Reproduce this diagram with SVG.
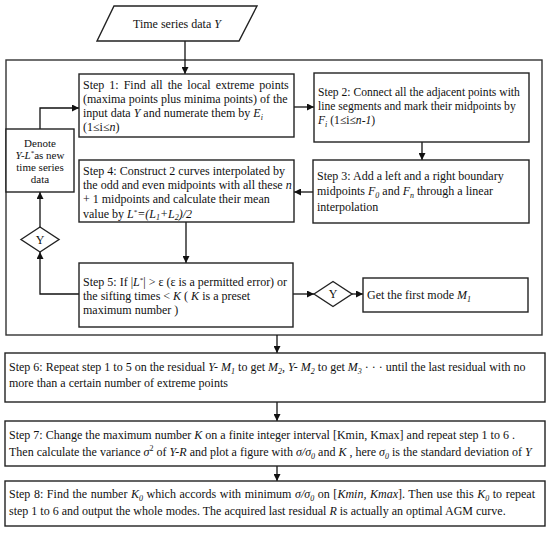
<svg xmlns="http://www.w3.org/2000/svg" width="550" height="534" viewBox="0 0 550 534">
<style>
text{font-family:"Liberation Serif","Times New Roman",serif;font-size:12px;fill:#111}
.i{font-style:italic}
.s2 text{font-size:11.6px}
.dn text{font-size:11px}
.box{fill:#fff;stroke:#222;stroke-width:1.4}
.frame{fill:none;stroke:#333;stroke-width:1.4}
.c{fill:none;stroke:#111;stroke-width:1.3}
</style>
<defs>
<marker id="a" viewBox="0 0 10 10" refX="10" refY="5" markerWidth="7" markerHeight="7" markerUnits="userSpaceOnUse" orient="auto">
<path d="M0,0 L10,5 L0,10 z" fill="#111"/>
</marker>
</defs>
<rect fill="#fff" width="550" height="534"/>
<g id="frame"><rect class="frame" x="6" y="60" width="536" height="275"/></g>
<g id="connectors">
<path class="c" d="M185,41 V74" marker-end="url(#a)"/>
<path class="c" d="M294,107 H314" marker-end="url(#a)"/>
<path class="c" d="M422,142 V160" marker-end="url(#a)"/>
<path class="c" d="M313,192 H294" marker-end="url(#a)"/>
<path class="c" d="M186,222 V263" marker-end="url(#a)"/>
<path class="c" d="M293,294 H314" marker-end="url(#a)"/>
<path class="c" d="M352,294 H363" marker-end="url(#a)"/>
<path class="c" d="M79,294 H40 V252" marker-end="url(#a)"/>
<path class="c" d="M40,227 V192" marker-end="url(#a)"/>
<path class="c" d="M40,129 V108 H79" marker-end="url(#a)"/>
<path class="c" d="M277,335 V353" marker-end="url(#a)"/>
<path class="c" d="M277,402 V421" marker-end="url(#a)"/>
<path class="c" d="M277,466 V481" marker-end="url(#a)"/>
</g>
<g id="input">
<polygon class="box" points="114,6 257,6 239,41 97,41"/>
<text x="177" y="28" text-anchor="middle">Time series data <tspan class="i">Y</tspan></text>
</g>
<g id="step1">
<rect class="box" x="79" y="74" width="215" height="63"/>
<text x="83" y="89" word-spacing="2">Step 1: Find all the local extreme points</text>
<text x="83" y="103">(maxima points plus minima points) of the</text>
<text x="83" y="117">input data <tspan class="i">Y</tspan> and numerate them by <tspan class="i">E</tspan><tspan class="i" font-size="8" dy="2.5">i</tspan></text>
<text x="83" y="131">(1≤i≤<tspan class="i">n</tspan>)</text>
</g>
<g id="step2" class="s2">
<rect class="box" x="314" y="73" width="215" height="69"/>
<text x="318" y="96">Step 2: Connect all the adjacent points with</text>
<text x="318" y="110">line segments and mark their midpoints by</text>
<text x="318" y="124"><tspan class="i">F</tspan><tspan class="i" font-size="8" dy="2.5">i</tspan><tspan dy="-2.5"> (1≤i≤</tspan><tspan class="i">n-1</tspan>)</text>
</g>
<g id="step3">
<rect class="box" x="313" y="160" width="216" height="63"/>
<text x="317" y="180">Step 3: Add a left and a right boundary</text>
<text x="317" y="195">midpoints <tspan class="i">F</tspan><tspan class="i" font-size="8" dy="2.5">0</tspan><tspan dy="-2.5">  and </tspan><tspan class="i">F</tspan><tspan class="i" font-size="8" dy="2.5">n</tspan><tspan dy="-2.5"> through a linear</tspan></text>
<text x="317" y="211">interpolation</text>
</g>
<g id="step4">
<rect class="box" x="79" y="160" width="215" height="62"/>
<text x="83" y="175">Step 4: Construct  2 curves interpolated by</text>
<text x="83" y="189">the odd and even midpoints with all these <tspan class="i">n</tspan></text>
<text x="83" y="203">+ 1 midpoints and calculate their mean</text>
<text x="83" y="218">value by <tspan class="i">L</tspan><tspan font-size="7" dy="-4">*</tspan><tspan class="i" dy="4">=(L</tspan><tspan class="i" font-size="8" dy="2">1</tspan><tspan class="i" dy="-2">+L</tspan><tspan class="i" font-size="8" dy="2">2</tspan><tspan class="i" dy="-2">)/2</tspan></text>
</g>
<g id="step5">
<rect class="box" x="79" y="263" width="214" height="64"/>
<text x="83" y="286">Step 5: If |<tspan class="i">L</tspan><tspan font-size="7" dy="-4">*</tspan><tspan dy="4">| &gt; ε (ε is a permitted error) or</tspan></text>
<text x="83" y="300">the sifting times &lt; <tspan class="i">K</tspan> ( <tspan class="i">K</tspan> is a preset</text>
<text x="83" y="314">maximum number )</text>
</g>
<g id="decision1">
<polygon class="box" points="314,294 333,281.5 352,294 333,306.5"/>
<text x="333" y="298" text-anchor="middle">Y</text>
</g>
<g id="mode1">
<rect class="box" x="363" y="278" width="165" height="34"/>
<text x="367" y="299">Get the first mode <tspan class="i">M</tspan><tspan class="i" font-size="8" dy="2.5">1</tspan></text>
</g>
<g id="decision2">
<polygon class="box" points="21,239.5 40,227 59,239.5 40,252"/>
<text x="40" y="243.5" text-anchor="middle">Y</text>
</g>
<g id="denote" class="dn">
<rect class="box" x="6" y="129" width="68" height="63"/>
<text x="40" y="147" text-anchor="middle">Denote</text>
<text x="40" y="159" text-anchor="middle"><tspan class="i">Y-L</tspan><tspan font-size="7" dy="-4">*</tspan><tspan dy="4">as new</tspan></text>
<text x="40" y="171" text-anchor="middle">time series</text>
<text x="40" y="183" text-anchor="middle">data</text>
</g>
<g id="step6">
<rect class="box" x="5" y="353" width="540" height="49"/>
<text x="9" y="371">Step 6: Repeat step 1 to 5 on the residual <tspan class="i">Y- M</tspan><tspan class="i" font-size="8" dy="2.5">1</tspan><tspan dy="-2.5"> to get </tspan><tspan class="i">M</tspan><tspan class="i" font-size="8" dy="2.5">2</tspan><tspan dy="-2.5">,  </tspan><tspan class="i">Y- M</tspan><tspan class="i" font-size="8" dy="2.5">2</tspan><tspan dy="-2.5"> to get </tspan><tspan class="i">M</tspan><tspan class="i" font-size="8" dy="2.5">3</tspan><tspan dy="-2.5"> · · ·  until the last residual  with no</tspan></text>
<text x="9" y="387">more than a certain number of extreme points</text>
</g>
<g id="step7">
<rect class="box" x="5" y="421" width="540" height="45"/>
<text x="9" y="439">Step 7: Change the maximum number  <tspan class="i">K</tspan> on a finite integer interval [Kmin, Kmax] and repeat  step 1 to 6 .</text>
<text x="9" y="456">Then calculate the variance <tspan class="i">σ</tspan><tspan font-size="8" dy="-5">2</tspan><tspan dy="5"> of </tspan><tspan class="i">Y-R</tspan>  and plot a figure with  <tspan class="i">σ/σ</tspan><tspan class="i" font-size="8" dy="2.5">0</tspan><tspan dy="-2.5"> and </tspan><tspan class="i">K</tspan> , here  <tspan class="i">σ</tspan><tspan class="i" font-size="8" dy="2.5">0</tspan><tspan dy="-2.5"> is the standard deviation of </tspan><tspan class="i">Y</tspan></text>
</g>
<g id="step8">
<rect class="box" x="5" y="481" width="540" height="45"/>
<text x="9" y="498" word-spacing="0.6">Step 8: Find the number <tspan class="i">K</tspan><tspan class="i" font-size="8" dy="2.5">0</tspan><tspan dy="-2.5"> which accords with minimum </tspan><tspan class="i">σ/σ</tspan><tspan class="i" font-size="8" dy="2.5">0</tspan><tspan dy="-2.5">  on [</tspan><tspan class="i">Kmin, Kmax</tspan>]. Then use this <tspan class="i">K</tspan><tspan class="i" font-size="8" dy="2.5">0</tspan><tspan dy="-2.5"> to repeat</tspan></text>
<text x="9" y="515">step 1 to 6  and output the whole modes. The acquired last residual <tspan class="i">R</tspan> is actually an optimal AGM curve.</text>
</g>
</svg>
